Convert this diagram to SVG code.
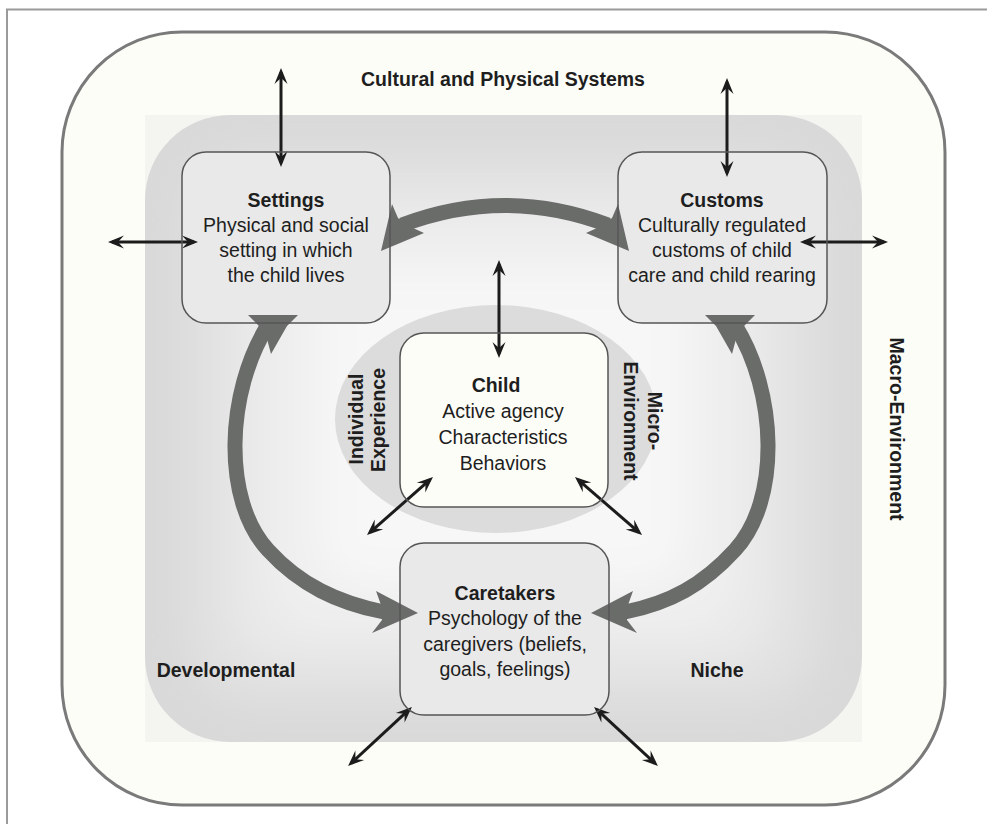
<svg xmlns="http://www.w3.org/2000/svg" width="987" height="824" viewBox="0 0 987 824">
<defs>
<style>
text{font-family:"Liberation Sans",Arial,Helvetica,sans-serif;font-size:19.5px;fill:#1e1e1e}
.b{font-weight:bold}
.box{fill:#e9e9e9;stroke:none}
.outline{fill:none;stroke:#555;stroke-width:1.5}
.thin{stroke:#1c1c1c;stroke-width:3;fill:none;marker-start:url(#ah);marker-end:url(#ah)}
.fat{stroke:#6a6c6a;stroke-width:15;fill:none}
.head{fill:#6a6c6a}
</style>
<marker id="ah" viewBox="-17 -7 18 14" refX="-4" refY="0" markerWidth="18" markerHeight="14" markerUnits="userSpaceOnUse" orient="auto-start-reverse">
<path d="M0,0 L-16,-6.5 L-10,0 L-16,6.5 Z" fill="#1c1c1c"/>
</marker>
<clipPath id="gclip"><rect x="145" y="115" width="717" height="627" rx="85"/></clipPath>
<filter id="blur" x="-20%" y="-20%" width="140%" height="140%"><feGaussianBlur stdDeviation="20"/></filter>
</defs>

<!-- frame -->
<path d="M7,824 L7,9.5 L987,9.5" fill="none" stroke="#9a9a9a" stroke-width="2"/>

<!-- outer environment -->
<rect x="62" y="32" width="883" height="773" rx="120" fill="#fdfdf7" stroke="#7a7a7a" stroke-width="3"/>

<!-- developmental niche gradient region -->
<rect x="145" y="115" width="717" height="627" fill="#f4f4f1"/>
<rect x="145" y="115" width="717" height="627" rx="85" fill="#d9d9d9"/>
<g clip-path="url(#gclip)">
<g filter="url(#blur)">
<rect x="185" y="152" width="637" height="553" rx="70" fill="#e1e1e1"/>
<rect x="228" y="190" width="551" height="477" rx="60" fill="#e9e9e9"/>
<rect x="272" y="230" width="463" height="397" rx="50" fill="#f0f0f0"/>
<rect x="322" y="275" width="363" height="307" rx="40" fill="#f7f7f7"/>
</g>
</g>

<!-- micro-environment ellipse -->
<ellipse cx="496" cy="419" rx="161" ry="114" fill="#dcdcdc"/>

<!-- region labels -->
<g id="labels">
<text class="b" x="503" y="86" text-anchor="middle">Cultural and Physical Systems</text>
<text class="b" x="226" y="677" text-anchor="middle">Developmental</text>
<text class="b" x="717" y="677" text-anchor="middle">Niche</text>
<text class="b" transform="translate(890,429) rotate(90)" text-anchor="middle">Macro-Environment</text>
<text class="b" transform="translate(363,419) rotate(-90)" text-anchor="middle">Individual</text>
<text class="b" transform="translate(385,420) rotate(-90)" text-anchor="middle">Experience</text>
<text class="b" transform="translate(648,421) rotate(90)" text-anchor="middle">Micro-</text>
<text class="b" transform="translate(624,421) rotate(90)" text-anchor="middle">Environment</text>
</g>

<!-- nodes -->
<g id="settings">
<rect class="box" x="182" y="152" width="208" height="171" rx="24"/>
<text class="b" x="286" y="207" text-anchor="middle">Settings</text>
<text x="286" y="232" text-anchor="middle">Physical and social</text>
<text x="286" y="257" text-anchor="middle">setting in which</text>
<text x="286" y="282" text-anchor="middle">the child lives</text>
</g>
<g id="customs">
<rect class="box" x="618" y="152" width="209" height="171" rx="24"/>
<text class="b" x="722" y="207" text-anchor="middle">Customs</text>
<text x="722" y="232" text-anchor="middle">Culturally regulated</text>
<text x="722" y="257" text-anchor="middle">customs of child</text>
<text x="722" y="282" text-anchor="middle">care and child rearing</text>
</g>
<g id="child">
<rect x="400" y="333" width="208" height="174" rx="24" fill="#fdfdf8"/>
<text class="b" x="496" y="392" text-anchor="middle">Child</text>
<text x="503" y="418" text-anchor="middle">Active agency</text>
<text x="503" y="444" text-anchor="middle">Characteristics</text>
<text x="503" y="470" text-anchor="middle">Behaviors</text>
</g>
<g id="caretakers">
<rect class="box" x="400" y="543" width="209" height="172" rx="24"/>
<text class="b" x="505" y="600" text-anchor="middle">Caretakers</text>
<text x="505" y="625" text-anchor="middle">Psychology of the</text>
<text x="505" y="651" text-anchor="middle">caregivers (beliefs,</text>
<text x="505" y="676" text-anchor="middle">goals, feelings)</text>
</g>

<!-- connectors -->
<g id="connectors">
<path class="fat" d="M402,225 Q505,186 608,225"/>
<polygon class="head" points="392,204 381,251 424,233 413,228 398,218"/>
<polygon class="head" points="618,204 629,251 586,233 597,228 612,218"/>

<path class="fat" d="M268,325 C226,392 222,500 268,550 C300,585 338,603 384,612"/>
<polygon class="head" points="248,315 298,315 287,326 271,354 267,339 254,341 259,326"/>
<polygon class="head" points="376,591 418,613 372,633 382,620 381,605"/>

<path class="fat" d="M735,325 C777,392 781,500 735,550 C703,585 670,603 625,612"/>
<polygon class="head" points="755,315 705,315 716,326 732,354 736,339 749,341 744,326"/>
<polygon class="head" points="633,591 591,613 637,633 627,620 628,605"/>

<line class="thin" x1="281" y1="72" x2="281" y2="163"/>
<line class="thin" x1="112" y1="242" x2="194" y2="242"/>
<line class="thin" x1="727" y1="82" x2="727" y2="173"/>
<line class="thin" x1="804" y1="242" x2="884" y2="242"/>
<line class="thin" x1="499" y1="264" x2="499" y2="354"/>
<line class="thin" x1="430" y1="479.6" x2="370" y2="532.4"/>
<line class="thin" x1="578" y1="479.6" x2="639" y2="532.4"/>
<line class="thin" x1="409" y1="709.7" x2="351" y2="763.3"/>
<line class="thin" x1="597" y1="709.7" x2="655" y2="763.3"/>
</g>

<!-- node borders drawn over arrow heads -->
<g id="node-borders">
<rect class="outline" x="182" y="152" width="208" height="171" rx="24"/>
<rect class="outline" x="618" y="152" width="209" height="171" rx="24"/>
<rect class="outline" x="400" y="333" width="208" height="174" rx="24"/>
<rect class="outline" x="400" y="543" width="209" height="172" rx="24"/>
</g>
</svg>
